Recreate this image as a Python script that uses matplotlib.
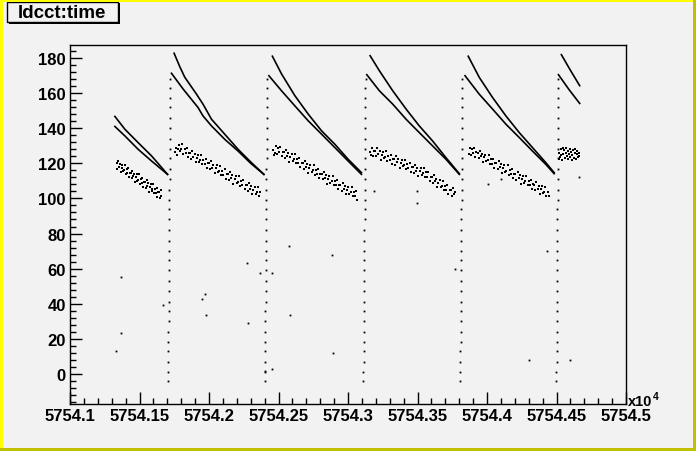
import numpy as np
import matplotlib
matplotlib.use("Agg")
import matplotlib.pyplot as plt
from matplotlib.patches import Rectangle
from matplotlib.ticker import MultipleLocator, FuncFormatter

plt.rcParams['font.family'] = ['Liberation Sans', 'DejaVu Sans']
plt.rcParams['font.weight'] = 'bold'

# time in seconds after t_start, x axis shows time / 1e4
t_start = 57541000

# two dcct curves per fill: (time, current)
hi_fills = [
    [(323, 146.7), (395, 139.4), (490, 131.8), (587, 124.2), (702, 113.7)],
    [(749, 182.7), (790, 175.0), (826, 169.0), (910, 159.4), (957, 153.7), (1018, 145.1),
     (1113, 136.6), (1209, 128.0), (1305, 120.4), (1395, 113.7)],
    [(1456, 181.0), (1522, 170.9), (1618, 158.5), (1714, 148.0), (1810, 138.5),
     (1905, 130.9), (2001, 122.3), (2097, 114.7)],
    [(2159, 181.3), (2226, 172.7), (2322, 161.3), (2418, 150.9), (2513, 141.3),
     (2609, 132.7), (2705, 123.2), (2801, 114.1)],
    [(2865, 181.0), (2944, 169.0), (3040, 157.5), (3136, 147.0), (3232, 137.5),
     (3327, 129.0), (3423, 120.4), (3483, 114.7)],
    [(3535, 181.9), (3600, 173.0), (3667, 164.2)],
]
lo_fills = [
    [(323, 141.0), (395, 135.6), (490, 128.0), (587, 121.3), (702, 113.7)],
    [(730, 171.3), (814, 162.3), (921, 151.8), (957, 147.0), (1018, 141.3),
     (1113, 133.7), (1209, 127.0), (1300, 120.0), (1395, 113.7)],
    [(1431, 169.9), (1522, 161.3), (1618, 152.7), (1714, 144.2), (1810, 136.6),
     (1905, 129.0), (2001, 121.3), (2097, 113.7)],
    [(2135, 170.5), (2226, 161.3), (2322, 153.7), (2418, 145.1), (2513, 137.5),
     (2609, 129.9), (2705, 122.3), (2801, 113.7)],
    [(2842, 169.9), (2944, 159.4), (3040, 150.9), (3136, 142.3), (3232, 134.7),
     (3327, 127.0), (3423, 119.4), (3483, 114.1)],
    [(3514, 170.5), (3590, 162.0), (3667, 154.1)],
]

# noisy band of points under the curves
band1 = [(335, 120.2), (341, 117.0), (347, 121.4), (353, 118.0), (359, 119.7), (365, 114.9),
         (371, 117.6), (377, 119.3), (383, 115.5), (389, 116.3), (395, 119.2), (401, 114.0),
         (407, 116.6), (413, 114.3), (419, 117.2), (425, 112.0), (431, 114.7), (437, 114.6),
         (443, 111.4), (449, 115.9), (455, 112.5), (461, 114.1), (467, 109.3), (473, 112.1),
         (479, 113.8), (485, 109.9), (491, 110.7), (497, 113.7), (503, 108.4), (509, 111.0),
         (515, 108.7), (521, 111.7), (527, 106.4), (533, 109.1), (539, 109.1), (545, 105.9),
         (551, 110.3), (557, 106.9), (563, 108.6), (569, 103.8), (575, 106.5), (581, 108.2),
         (587, 104.4), (593, 105.1), (599, 108.1), (605, 102.9), (611, 105.5), (617, 103.1),
         (623, 106.1), (629, 100.9), (635, 103.6), (641, 103.5), (647, 100.3), (653, 104.8),
         (658, 101.4)]
band2 = [(752, 126.6), (760, 128.9), (768, 124.7), (776, 128.1), (784, 130.5), (792, 127.1),
         (800, 127.9), (808, 130.8), (816, 125.5), (824, 128.1), (832, 125.7), (840, 128.7),
         (848, 123.4), (856, 126.1), (864, 126.0), (872, 122.7), (880, 127.2), (888, 123.7),
         (896, 125.4), (904, 120.5), (912, 123.3), (920, 124.9), (928, 121.0), (936, 121.8),
         (944, 124.7), (952, 119.5), (960, 122.0), (968, 119.6), (976, 122.6), (984, 117.3),
         (992, 120.0), (1000, 119.9), (1008, 116.7), (1016, 121.1), (1024, 117.6), (1032, 119.3),
         (1040, 114.4), (1048, 117.2), (1056, 118.8), (1064, 115.0), (1072, 115.7), (1080, 118.6),
         (1088, 113.4), (1096, 115.9), (1104, 113.6), (1112, 116.5), (1120, 111.3), (1128, 113.9),
         (1136, 113.8), (1144, 110.6), (1152, 115.0), (1160, 111.6), (1168, 113.2), (1176, 108.4),
         (1184, 111.1), (1192, 112.7), (1200, 108.9), (1208, 109.6), (1216, 112.6), (1224, 107.3),
         (1232, 109.8), (1240, 107.5), (1248, 110.4), (1256, 105.2), (1264, 107.8), (1272, 107.8),
         (1280, 104.5), (1288, 108.9), (1296, 105.5), (1304, 107.1), (1312, 102.3), (1320, 105.0),
         (1328, 106.7), (1336, 102.8), (1344, 103.5), (1352, 106.5), (1360, 101.2), (1368, 103.8)]
band3 = [(1458, 127.7), (1466, 124.6), (1474, 126.1), (1482, 129.8), (1490, 125.3), (1498, 128.6),
         (1506, 126.3), (1514, 129.2), (1522, 124.0), (1530, 126.6), (1538, 126.5), (1546, 123.2),
         (1554, 127.7), (1562, 124.2), (1570, 125.8), (1578, 121.0), (1586, 123.7), (1594, 125.3),
         (1602, 121.5), (1610, 122.2), (1618, 125.1), (1626, 119.9), (1634, 122.4), (1642, 120.0),
         (1650, 123.0), (1658, 117.7), (1666, 120.3), (1674, 120.3), (1682, 117.0), (1690, 121.4),
         (1698, 118.0), (1706, 119.6), (1714, 114.7), (1722, 117.5), (1730, 119.1), (1738, 115.2),
         (1746, 116.0), (1754, 118.9), (1762, 113.6), (1770, 116.2), (1778, 113.8), (1786, 116.7),
         (1794, 111.5), (1802, 114.1), (1810, 114.0), (1818, 110.8), (1826, 115.2), (1834, 111.7),
         (1842, 113.4), (1850, 108.5), (1858, 111.2), (1866, 112.9), (1874, 109.0), (1882, 109.7),
         (1890, 112.7), (1898, 107.4), (1906, 109.9), (1914, 107.6), (1922, 110.5), (1930, 105.2),
         (1938, 107.9), (1946, 107.8), (1954, 104.5), (1962, 109.0), (1970, 105.5), (1978, 107.1),
         (1986, 102.3), (1994, 105.0), (2002, 106.6), (2010, 102.8), (2018, 103.5), (2026, 106.4),
         (2034, 101.2), (2042, 103.7), (2050, 101.3), (2058, 104.3), (2066, 99.0)]
band4 = [(2155, 126.6), (2163, 124.9), (2171, 128.5), (2179, 123.9), (2187, 127.2), (2195, 127.2),
         (2203, 124.0), (2211, 128.6), (2219, 125.2), (2227, 126.9), (2235, 122.1), (2243, 125.0),
         (2251, 126.7), (2259, 122.9), (2267, 123.7), (2275, 126.8), (2283, 121.6), (2291, 124.2),
         (2299, 121.9), (2307, 124.9), (2315, 119.8), (2323, 122.5), (2331, 122.5), (2339, 119.3),
         (2347, 123.9), (2355, 120.5), (2363, 122.2), (2371, 117.4), (2379, 120.2), (2387, 122.0),
         (2395, 118.2), (2403, 119.0), (2411, 122.0), (2419, 116.9), (2427, 119.5), (2435, 117.2),
         (2443, 120.2), (2451, 115.0), (2459, 117.8), (2467, 117.8), (2475, 114.6), (2483, 119.1),
         (2491, 115.8), (2499, 117.5), (2507, 112.7), (2515, 115.5), (2523, 117.2), (2531, 113.5),
         (2539, 114.3), (2547, 117.3), (2555, 112.1), (2563, 114.8), (2571, 112.3), (2579, 115.2),
         (2587, 109.8), (2595, 112.4), (2603, 112.3), (2611, 108.9), (2619, 113.3), (2627, 109.8),
         (2635, 111.3), (2643, 106.4), (2651, 109.0), (2659, 110.6), (2667, 106.7), (2675, 107.3),
         (2683, 110.2), (2691, 104.8), (2699, 107.3), (2707, 104.9), (2715, 107.7), (2723, 102.4),
         (2731, 105.0), (2739, 104.8), (2747, 101.5), (2755, 105.8), (2763, 102.3), (2771, 103.9)]
band5 = [(2868, 125.3), (2876, 129.0), (2884, 124.6), (2892, 127.9), (2900, 125.9), (2908, 128.8),
         (2916, 123.6), (2924, 126.2), (2932, 126.1), (2940, 122.9), (2948, 127.3), (2956, 123.9),
         (2964, 125.5), (2972, 120.7), (2980, 123.4), (2988, 125.0), (2996, 121.2), (3004, 121.9),
         (3012, 124.9), (3020, 119.6), (3028, 122.2), (3036, 119.8), (3044, 122.7), (3052, 117.5),
         (3060, 120.1), (3068, 120.1), (3076, 116.8), (3084, 121.3), (3092, 117.8), (3100, 119.4),
         (3108, 114.6), (3116, 117.3), (3124, 119.0), (3132, 115.1), (3140, 115.8), (3148, 118.8),
         (3156, 113.5), (3164, 116.1), (3172, 113.7), (3180, 116.7), (3188, 111.4), (3196, 114.0),
         (3204, 114.0), (3212, 110.7), (3220, 115.2), (3228, 111.7), (3236, 113.4), (3244, 108.5),
         (3252, 111.2), (3260, 112.9), (3268, 109.0), (3276, 109.8), (3284, 112.7), (3292, 107.4),
         (3300, 110.0), (3308, 107.6), (3316, 110.6), (3324, 105.3), (3332, 108.0), (3340, 107.9),
         (3348, 104.6), (3356, 109.1), (3364, 105.6), (3372, 107.3), (3380, 102.4), (3388, 105.2),
         (3396, 106.8), (3404, 102.9), (3412, 103.7), (3420, 106.6), (3428, 101.4), (3436, 103.9),
         (3444, 101.6)]
band6 = [(3515, 122.4), (3520, 126.1), (3525, 123.5), (3530, 127.9), (3535, 124.8), (3540, 121.9),
         (3545, 128.6), (3550, 125.2), (3555, 127.4), (3560, 123.0), (3565, 125.9), (3570, 129.0),
         (3575, 124.1), (3580, 126.8), (3585, 122.6), (3590, 125.5), (3595, 128.2), (3600, 123.8),
         (3605, 126.3), (3610, 121.8), (3615, 124.9), (3620, 127.6), (3625, 123.2), (3630, 125.8),
         (3635, 128.4), (3640, 122.7), (3645, 125.1), (3650, 127.2), (3655, 123.6), (3660, 126.0),
         (3665, 124.2)]
bands = [band1, band2, band3, band4, band5, band6]

# injection ramps (vertical dotted lines)
ramp_t0 = [706, 1403, 2111, 2808, 3499]
ramp_dt = [0, 0, 1, 1, 2, 2, 3, 3, 4, 4, 5, 5, 6, 6, 7, 7, 8, 8, 9, 9, 10, 10, 11, 11,
           12, 12, 13, 13, 14, 14, 15]
ramp_y = [-4, 1, 7, 13, 18, 24, 30, 36, 41, 47, 53, 59, 65, 70, 76, 82, 88, 94, 99, 105,
          111, 117, 123, 128, 134, 140, 146, 152, 157, 163, 168]

# isolated points
stray = [(328, 13.0), (364, 23.3), (369, 55.3), (666, 39.3), (950, 42.7), (970, 45.5),
         (979, 33.5), (1273, 63.2), (1280, 29.0), (1367, 57.5), (1453, 57.5), (1453, 2.7),
         (1578, 73.0), (1582, 33.5), (1884, 67.8), (1891, 11.8), (2190, 104.0), (2494, 97.5),
         (2494, 104.0), (3004, 108.0), (3100, 110.9), (3662, 112.4), (1406, 1.7), (2772, 60.0),
         (3300, 8.0), (3600, 8.0), (3430, 70.0)]


def xs(t):
    return (t_start + np.asarray(t, dtype=float)) / 1e4


bg = '#f2f2f2'
fig = plt.figure(figsize=(6.96, 4.52), dpi=100, facecolor=bg)
ax = fig.add_axes([70 / 696, 47 / 452, 556 / 696, 359 / 452], facecolor=bg)

for fill in hi_fills + lo_fills:
    t, y = zip(*fill)
    ax.plot(xs(t), y, color='k', lw=1.2)

for b in bands:
    t, y = zip(*b)
    ax.plot(xs(t), y, ls='none', marker='s', ms=1.5, mew=0, color='k')

for t0 in ramp_t0:
    ax.plot(xs(np.array(ramp_dt) + t0), ramp_y, ls='none', marker='s', ms=1.3, mew=0, color='k')

t, y = zip(*stray)
ax.plot(xs(t), y, ls='none', marker='s', ms=1.3, mew=0, color='k')

ax.set_xlim(5754.1, 5754.5)
ax.set_ylim(-17.1, 187.4)
ax.xaxis.set_major_locator(MultipleLocator(0.05))
ax.xaxis.set_minor_locator(MultipleLocator(0.01))
ax.xaxis.set_major_formatter(FuncFormatter(lambda v, p: f'{v:.6g}'))
ax.yaxis.set_major_locator(MultipleLocator(20))
ax.yaxis.set_minor_locator(MultipleLocator(4))
ax.tick_params(which='both', direction='in', top=False, right=False, width=1)
ax.tick_params(which='major', length=8.5, labelsize=12, pad=3)
ax.tick_params(which='minor', length=4.2)
for lab in ax.get_xticklabels() + ax.get_yticklabels():
    lab.set_fontweight('bold')
for s in ax.spines.values():
    s.set_linewidth(1)

# exponent of the x axis
fig.text(628 / 696, 46 / 452, 'x10', fontsize=10.5, fontweight='bold', ha='left', va='baseline')
fig.text(652.5 / 696, 52 / 452, '4', fontsize=7.5, fontweight='bold', ha='left', va='baseline')

# title box with shadow
fig.patches.append(Rectangle((9 / 696, 427 / 452), 111 / 696, 21 / 452,
                             transform=fig.transFigure, fc='k', ec='k', lw=0))
fig.patches.append(Rectangle((7 / 696, 429 / 452), 111 / 696, 20 / 452,
                             transform=fig.transFigure, fc=bg, ec='k', lw=1))
fig.text(62 / 696, 439 / 452, 'ldcct:time', fontsize=13.5, fontweight='bold',
         ha='center', va='center')

# pad highlight border
fig.patches.append(Rectangle((0, 0), 3 / 696, 1, transform=fig.transFigure, fc='#ffff00', lw=0))
fig.patches.append(Rectangle((0, 449 / 452), 1, 3 / 452, transform=fig.transFigure, fc='#ffff00', lw=0))
fig.patches.append(Rectangle((693 / 696, 0), 3 / 696, 1, transform=fig.transFigure, fc='#c0c000', lw=0))
fig.patches.append(Rectangle((0, 0), 1, 3 / 452, transform=fig.transFigure, fc='#c0c000', lw=0))

fig.savefig('out.png', dpi=100, facecolor=bg)
